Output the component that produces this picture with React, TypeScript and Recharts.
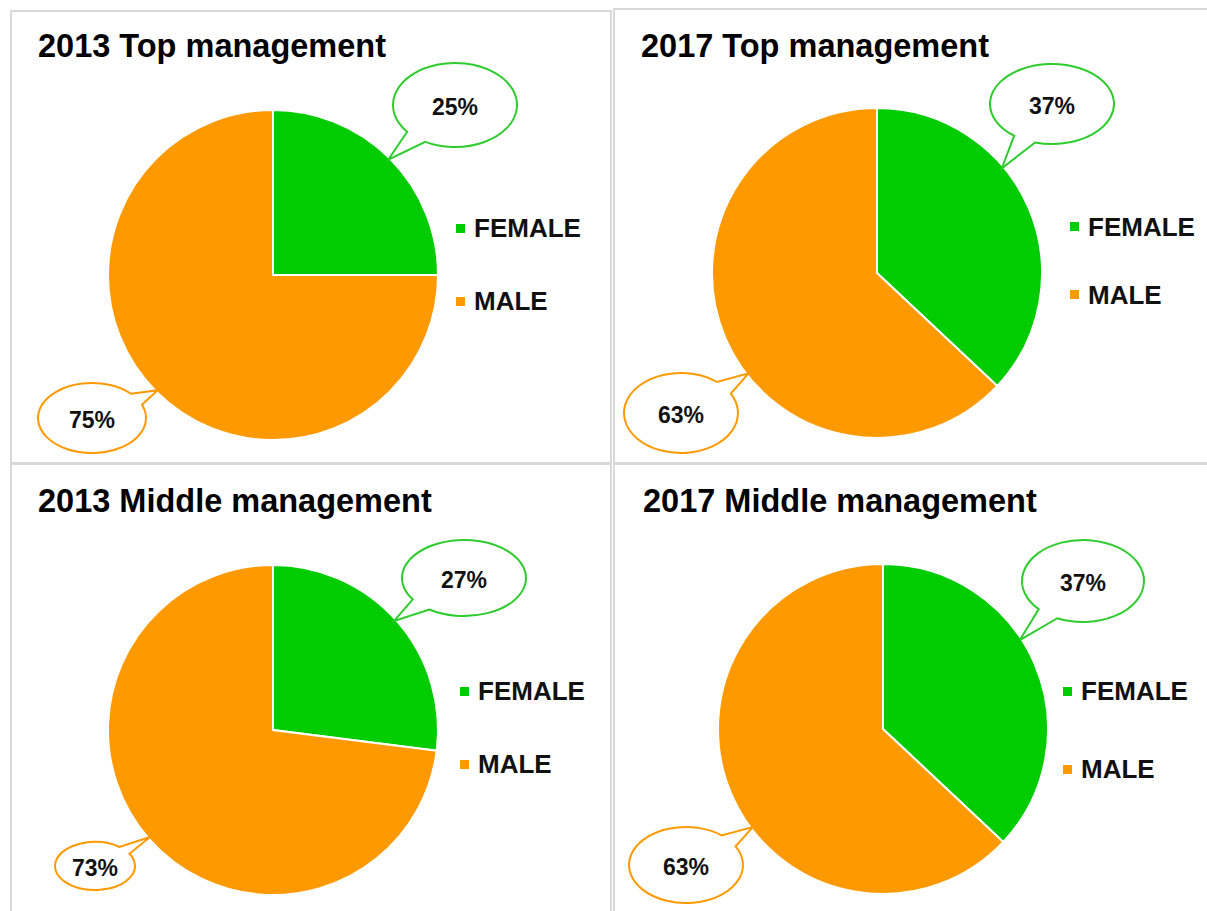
import React from 'react';
import { PieChart, Pie, Cell, Legend } from 'recharts';

const genders = ['FEMALE', 'MALE'];
const titles = ['2013 Top management', '2017 Top management', '2013 Middle management', '2017 Middle management'];
const top2013 = [25, 75];
const top2017 = [37, 63];
const middle2013 = [27, 73];
const middle2017 = [37, 63];
const series = [top2013, top2017, middle2013, middle2017];

const COLORS = ['#00CC00', '#FF9900'];
const BUBBLE_STROKE = ['#2ECC2E', '#FF9900'];
const FONT = '"Liberation Sans", Arial, Helvetica, sans-serif';
const BORDER = 2;
const RADIUS = 165;

// panel boxes, pie centre, title / legend placement, callout bubbles (layout only)
const layouts = [
  {
    left: 10, top: 10, width: 602, height: 454, cx: 263, cy: 265,
    titleX: 28, titleBase: 47, legendX: 446, legendY: 218, legendGap: 73,
    callouts: [
      { dx: 182, dy: -170, rx: 62, ry: 42, tip: 45 },
      { dx: -181, dy: 143, rx: 54, ry: 35, tip: -135 },
    ],
  },
  {
    left: 613, top: 8, width: 600, height: 456, cx: 264, cy: 265,
    titleX: 28, titleBase: 49, legendX: 457, legendY: 218.5, legendGap: 68,
    callouts: [
      { dx: 175, dy: -169, rx: 62, ry: 40, tip: 40 },
      { dx: -196, dy: 140, rx: 57, ry: 40, tip: -142 },
    ],
  },
  {
    left: 10, top: 463, width: 602, height: 460, cx: 263, cy: 267,
    titleX: 28, titleBase: 49, legendX: 450, legendY: 228, legendGap: 73,
    callouts: [
      { dx: 191, dy: -152, rx: 62, ry: 38, tip: 42 },
      { dx: -178, dy: 136, rx: 40, ry: 24, tip: -139 },
    ],
  },
  {
    left: 613, top: 463, width: 600, height: 460, cx: 270, cy: 266,
    titleX: 30, titleBase: 49, legendX: 450, legendY: 228, legendGap: 78,
    callouts: [
      { dx: 200, dy: -148, rx: 61, ry: 41, tip: 33 },
      { dx: -197, dy: 136, rx: 57, ry: 38, tip: -143 },
    ],
  },
];

type Callout = { dx: number; dy: number; rx: number; ry: number; tip: number };

function Bubble({ cx, cy, r, index, value, c }: { cx: number; cy: number; r: number; index: number; value: number; c: Callout }) {
  const bx = cx + c.dx;
  const by = cy + c.dy;
  const a = (c.tip * Math.PI) / 180;
  const tx = cx + (r - 2) * Math.cos(a);
  const ty = cy - (r - 2) * Math.sin(a);
  const phi = Math.atan2((ty - by) / c.ry, (tx - bx) / c.rx);
  const d = 0.19;
  const ax = bx + c.rx * Math.cos(phi + d);
  const ay = by + c.ry * Math.sin(phi + d);
  const ex = bx + c.rx * Math.cos(phi - d);
  const ey = by + c.ry * Math.sin(phi - d);
  const path = `M ${ax} ${ay} A ${c.rx} ${c.ry} 0 1 1 ${ex} ${ey} L ${tx} ${ty} Z`;
  return (
    <g>
      <path d={path} fill="#fff" stroke={BUBBLE_STROKE[index]} strokeWidth={2} strokeLinejoin="miter" />
      <text
        x={bx}
        y={by + 2}
        textAnchor="middle"
        dominantBaseline="central"
        fontFamily={FONT}
        fontWeight={700}
        fontSize={23}
        fill="#111"
      >
        {`${value}%`}
      </text>
    </g>
  );
}

function Panel({ idx }: { idx: number }) {
  const L = layouts[idx];
  const data = genders.map((g, i) => ({ name: g, value: series[idx][i], fill: COLORS[i] }));

  const renderLegend = (props: any) => {
    const items = props.payload || [];
    return (
      <div style={{ fontFamily: FONT }}>
        {items.map((e: any, i: number) => (
          <div key={i} style={{ height: L.legendGap, display: 'flex', alignItems: 'center' }}>
            <span style={{ display: 'inline-block', width: 9, height: 9, background: COLORS[i], marginRight: 9 }} />
            <span style={{ fontSize: 26, fontWeight: 700, lineHeight: '26px', color: '#111' }}>{e.value}</span>
          </div>
        ))}
      </div>
    );
  };

  return (
    <div
      style={{
        position: 'absolute',
        left: L.left,
        top: L.top,
        width: L.width,
        height: L.height,
        boxSizing: 'border-box',
        border: `${BORDER}px solid #d9d9d9`,
        background: '#fff',
      }}
    >
      <div style={{ position: 'absolute', left: -BORDER, top: -BORDER }}>
        <PieChart width={L.width} height={L.height} margin={{ top: 0, right: 0, bottom: 0, left: 0 }}>
          <Pie
            data={data}
            dataKey="value"
            nameKey="name"
            cx={L.cx}
            cy={L.cy}
            outerRadius={RADIUS}
            startAngle={90}
            endAngle={-270}
            stroke="#fff"
            strokeWidth={2}
            isAnimationActive={false}
            labelLine={false}
            label={(p: any) => (
              <Bubble cx={L.cx} cy={L.cy} r={RADIUS} index={p.index} value={p.value} c={L.callouts[p.index]} />
            )}
          >
            {data.map((d, i) => (
              <Cell key={`cell-${i}`} fill={COLORS[i]} />
            ))}
          </Pie>
          <Legend
            layout="vertical"
            content={renderLegend}
            wrapperStyle={{ left: L.legendX, top: L.legendY - L.legendGap / 2, width: 150, bottom: 'auto', right: 'auto' }}
          />
        </PieChart>
      </div>
      <div
        style={{
          position: 'absolute',
          left: L.titleX - BORDER,
          top: L.titleBase - 27 - BORDER,
          fontFamily: FONT,
          fontWeight: 700,
          fontSize: 32.5,
          lineHeight: '32px',
          color: '#000',
          whiteSpace: 'pre',
        }}
      >
        {titles[idx]}
      </div>
    </div>
  );
}

export default function App() {
  return (
    <div style={{ position: 'absolute', left: 0, top: 0, width: 1207, height: 911, overflow: 'hidden', background: '#fff' }}>
      {layouts.map((_, i) => (
        <Panel key={i} idx={i} />
      ))}
    </div>
  );
}
